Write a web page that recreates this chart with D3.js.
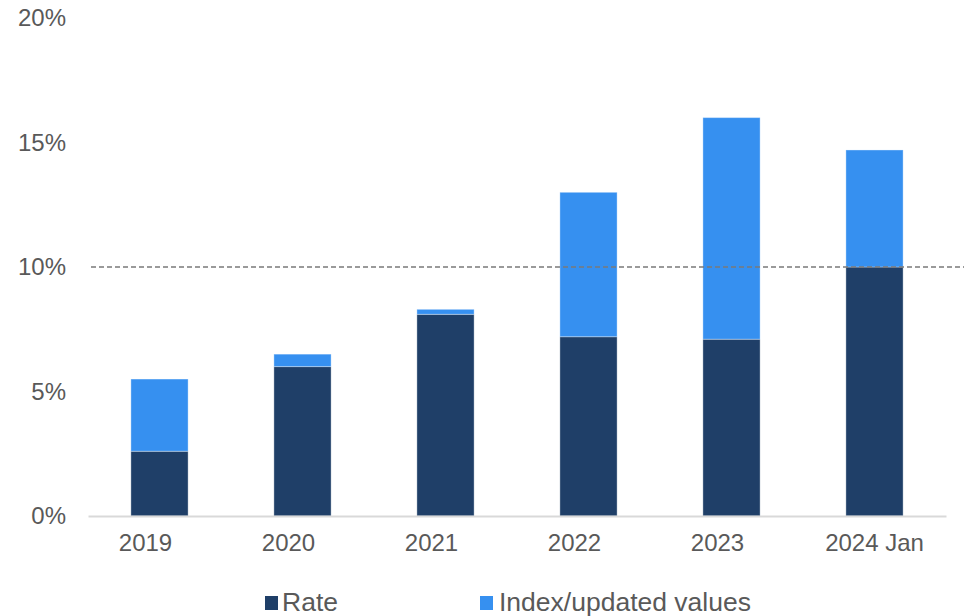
<!DOCTYPE html>
<html>
<head>
<meta charset="utf-8">
<script src="https://cdn.jsdelivr.net/npm/d3@7"></script>
<style>
  html, body { margin: 0; padding: 0; background: #fff; }
  svg { display: block; font-family: "Liberation Sans", Arial, sans-serif; }
</style>
</head>
<body>
<svg id="chart" width="964" height="616"></svg>
<script>
// Chart data
const categories = ["2019", "2020", "2021", "2022", "2023", "2024 Jan"];
const rateValues = [2.6, 6.0, 8.1, 7.2, 7.1, 10.0];
const indexValues = [2.9, 0.5, 0.2, 5.8, 8.9, 4.7];
const seriesNames = ["Rate", "Index/updated values"];
const yTicks = [0, 5, 10, 15, 20];
const referenceLevel = 10;

const colors = ["#1f3f68", "#3690f0"];
const textColor = "#595959";

const svg = d3.select("#chart");

const x = d3.scaleBand().domain(categories).range([88, 946]).paddingInner(0.6).paddingOuter(0.3);
const y = d3.scaleLinear().domain([0, 20]).range([516, 18]);

// Stack the two series
const rows = categories.map((c, i) => ({ cat: c, rate: rateValues[i], index: indexValues[i] }));
const stack = d3.stack().keys(["rate", "index"]);
const layers = stack(rows);

// Y axis labels (no line, no ticks)
const yAxis = svg.append("g")
  .attr("transform", "translate(66,0)")
  .call(d3.axisLeft(y).tickValues(yTicks).tickFormat(d => d + "%").tickSize(0).tickPadding(0));
yAxis.select(".domain").remove();
yAxis.selectAll("text")
  .attr("fill", textColor)
  .style("font-size", "24px")
  .style("font-family", "'Liberation Sans', Arial, sans-serif");

// Bars
svg.append("g").selectAll("g")
  .data(layers)
  .join("g")
  .attr("fill", (d, i) => colors[i])
  .selectAll("rect")
  .data(d => d)
  .join("rect")
  .attr("x", d => x(d.data.cat))
  .attr("width", x.bandwidth())
  .attr("y", d => y(d[1]))
  .attr("height", d => y(d[0]) - y(d[1]))
  .attr("stroke", "#ffffff")
  .attr("stroke-opacity", 0.35)
  .attr("stroke-width", 1);

// X axis; year-only labels sit slightly left of their bars
const xAxis = svg.append("g")
  .attr("transform", "translate(0,516)")
  .call(d3.axisBottom(x).tickSize(0).tickPadding(18));
xAxis.select(".domain").attr("stroke", "#d9d9d9").attr("stroke-width", 2);
xAxis.selectAll("text")
  .attr("fill", textColor)
  .attr("dx", d => d.length <= 4 ? -14 : 0)
  .style("font-size", "24px")
  .style("font-family", "'Liberation Sans', Arial, sans-serif");

// Dashed reference line
svg.append("line")
  .attr("x1", 91).attr("x2", 964)
  .attr("y1", y(referenceLevel)).attr("y2", y(referenceLevel))
  .attr("stroke", "#7a7a7a")
  .attr("stroke-width", 1.4)
  .attr("stroke-dasharray", "5,3");

// Legend
const legendX = [265, 480];
const legendTextX = [17, 19];
const legend = svg.append("g").selectAll("g")
  .data(seriesNames)
  .join("g")
  .attr("transform", (d, i) => `translate(${legendX[i]},0)`);
legend.append("rect")
  .attr("x", 0).attr("y", 596)
  .attr("width", 13).attr("height", 14)
  .attr("fill", (d, i) => colors[i]);
legend.append("text")
  .attr("x", (d, i) => legendTextX[i]).attr("y", 611)
  .attr("fill", textColor)
  .style("font-size", "26.5px")
  .text(d => d);
</script>
</body>
</html>
